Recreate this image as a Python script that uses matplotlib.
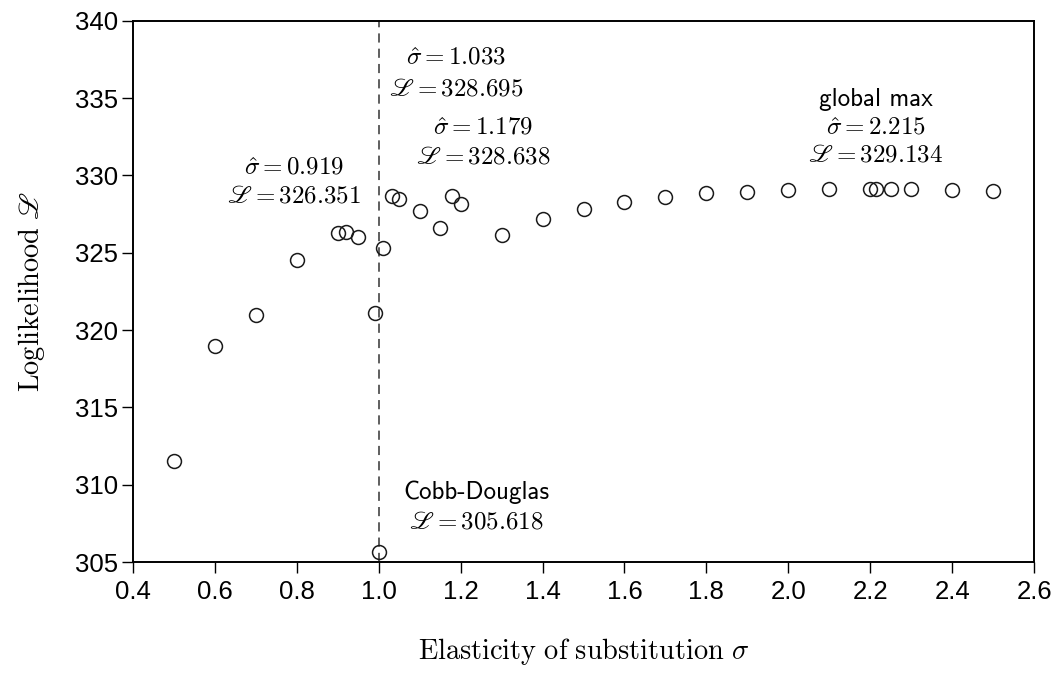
import matplotlib.pyplot as plt

plt.rcParams['mathtext.fontset'] = 'cm'

# grid of sigma values and the loglikelihood at each
sigma = [0.5, 0.6, 0.7, 0.8, 0.9, 0.919, 0.95, 0.99, 1.0, 1.01, 1.033, 1.05,
         1.1, 1.15, 1.179, 1.2, 1.3, 1.4, 1.5, 1.6, 1.7, 1.8, 1.9, 2.0, 2.1,
         2.2, 2.215, 2.25, 2.3, 2.4, 2.5]
loglik = [311.5, 318.95, 320.95, 324.52, 326.29, 326.351, 326.03, 321.07,
          305.618, 325.32, 328.695, 328.46, 327.7, 326.63, 328.638, 328.16,
          326.12, 327.15, 327.84, 328.29, 328.61, 328.83, 328.94, 329.05,
          329.10, 329.13, 329.134, 329.13, 329.11, 329.07, 329.02]

xticks = [0.4, 0.6, 0.8, 1.0, 1.2, 1.4, 1.6, 1.8, 2.0, 2.2, 2.4, 2.6]
yticks = [305, 310, 315, 320, 325, 330, 335, 340]

fig = plt.figure(figsize=(10.57, 6.73), dpi=100)
ax = fig.add_axes([0.1258, 0.1649, 0.8525, 0.8043])

ax.axvline(1.0, color='#333333', linestyle=(0, (6, 4)), linewidth=1.1, zorder=1)
ax.plot(sigma, loglik, linestyle='none', marker='o', markersize=10,
        markerfacecolor='none', markeredgecolor='#1a1a1a', markeredgewidth=1.1)

ax.set_xlim(0.4, 2.6)
ax.set_ylim(305, 340)
ax.set_xticks(xticks)
ax.set_xticklabels([f'{v:.1f}' for v in xticks])
ax.set_yticks(yticks)
ax.tick_params(direction='out', length=8, width=1, labelsize=18.5)
ax.tick_params(axis='x', pad=5)
ax.tick_params(axis='y', pad=3)
for lab in ax.get_xticklabels() + ax.get_yticklabels():
    lab.set_family('Liberation Sans')
for s in ax.spines.values():
    s.set_linewidth(1.4)

ax.set_xlabel(r'$\mathrm{Elasticity\ of\ substitution}\ \sigma$', fontsize=20.4, labelpad=23)
ax.set_ylabel(r'$\mathrm{Loglikelihood}\ \mathscr{L}$', fontsize=20.4, labelpad=20)

fs = 18
def note(x, y, s, family=None):
    if family:
        ax.text(x, y, s, ha='center', va='center', fontsize=18, family=family)
    else:
        ax.text(x, y, s, ha='center', va='center', fontsize=fs)

note(0.793, 330.5, r'$\hat{\sigma} = 0.919$')
note(0.793, 328.7, r'$\mathscr{L} = 326.351$')
note(1.189, 337.6, r'$\hat{\sigma} = 1.033$')
note(1.189, 335.65, r'$\mathscr{L} = 328.695$')
note(1.255, 333.1, r'$\hat{\sigma} = 1.179$')
note(1.255, 331.2, r'$\mathscr{L} = 328.638$')
note(2.214, 334.9, 'global max', family='cmss10')
note(2.214, 333.1, r'$\hat{\sigma} = 2.215$')
note(2.214, 331.35, r'$\mathscr{L} = 329.134$')
note(1.238, 309.5, 'Cobb-Douglas', family='cmss10')
note(1.238, 307.65, r'$\mathscr{L} = 305.618$')

fig.savefig('out.png', dpi=100)
